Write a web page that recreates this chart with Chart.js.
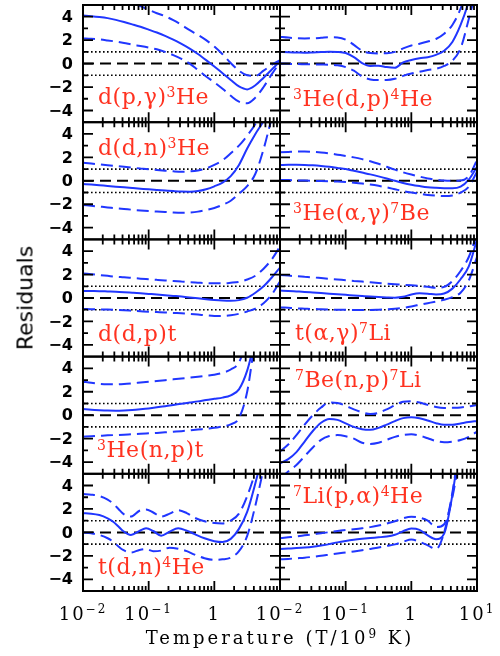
<!DOCTYPE html>
<html lang="en">
<head>
<meta charset="UTF-8">
<title>Residuals of nuclear reaction rates</title>
<script src="https://cdn.jsdelivr.net/npm/chart.js"></script>
<style>
  body { margin: 0; background: #fff; }
  #wrap { position: relative; width: 500px; height: 656px; overflow: hidden; }
  #wrap canvas { position: absolute; left: 0; top: 0; }
  .rx { position: absolute; color: #ff3220; font-family: 'DejaVu Serif', serif; font-size: 22px;
        line-height: 24px; letter-spacing: 0.5px; white-space: nowrap; }
  .rx sup { font-size: 14px; line-height: 0; vertical-align: 7px; letter-spacing: 0.5px; }
  #ytitle { position: absolute; left: 25px; top: 298px; transform: translate(-50%, -50%) rotate(-90deg);
            font: 22px 'DejaVu Sans', sans-serif; white-space: nowrap; }
  #xtitle { position: absolute; left: 280px; top: 628px; transform: translateX(-50%);
            font: 18px 'DejaVu Serif', serif; line-height: 20px; letter-spacing: 3px; white-space: nowrap; }
  #xtitle sup { font-size: 12px; line-height: 0; vertical-align: 6px; }
</style>
</head>
<body>
<div id="wrap">
  <div id="ytitle">Residuals</div>
  <div id="xtitle">Temperature (T/10<sup>9</sup> K)</div>
</div>

<script>
// log10(T/10^9 K) sample points
const gridLogT = [-2, -1.875, -1.75, -1.625, -1.5, -1.375, -1.25, -1.125, -1, -0.875, -0.75, -0.625,
                  -0.5, -0.375, -0.25, -0.125, 0, 0.125, 0.25, 0.375, 0.5, 0.625, 0.75, 0.875, 1];
// t(d,n) wiggles need their own sampling
const tdnLogT = [-2, -1.875, -1.75, -1.625, -1.54, -1.46, -1.39, -1.27, -1.14, -1.04, -0.93, -0.81, -0.68,
                 -0.55, -0.42, -0.3, -0.15, 0, 0.125, 0.25, 0.375, 0.5, 0.625, 0.75, 0.875, 1];

// residual curves: best fit (Mid) and error band (Hi / Lo)
const dpgMid = [4.1, 4.05, 3.98, 3.88, 3.73, 3.55, 3.35, 3.14, 2.9, 2.65, 2.37, 2.05, 1.68, 1.28, 0.82, 0.3, -0.25, -0.82, -1.4, -1.95, -2.2, -1.85, -1.2, -0.5, 0.2];
const dpgHi  = [6.2, 6.1, 5.95, 5.8, 5.6, 5.4, 5.15, 4.9, 4.6, 4.3, 4.05, 3.7, 3.3, 2.85, 2.45, 2.0, 1.45, 0.8, 0.05, -0.6, -1.0, -1.05, -0.6, -0.1, 0.3];
const dpgLo  = [2.15, 2.12, 2.07, 1.98, 1.88, 1.76, 1.62, 1.5, 1.37, 1.22, 1.0, 0.72, 0.4, 0.0, -0.55, -1.1, -1.6, -2.15, -2.75, -3.25, -3.38, -2.9, -2.0, -0.9, 0.1];

const he3dpMid = [1.0, 0.97, 0.95, 0.93, 0.95, 0.98, 1.02, 1.0, 0.9, 0.55, 0.05, -0.2, -0.18, -0.3, -0.35, 0.1, 0.3, 0.45, 0.55, 0.75, 1.1, 1.85, 3.3, 5.3, 8];
const he3dpHi  = [2.3, 2.22, 2.17, 2.15, 2.16, 2.2, 2.25, 2.23, 2.05, 1.6, 1.1, 0.9, 0.87, 0.88, 1.0, 1.3, 1.55, 1.7, 1.88, 2.1, 2.55, 3.3, 4.7, 7, 9];
const he3dpLo  = [0.0, -0.02, -0.04, -0.05, -0.06, -0.08, -0.1, -0.15, -0.3, -0.6, -1.1, -1.35, -1.4, -1.4, -1.3, -1.05, -0.85, -0.7, -0.55, -0.45, -0.2, 0.25, 1.3, 3.8, 6.5];

const ddnMid = [-0.27, -0.32, -0.38, -0.44, -0.5, -0.55, -0.61, -0.67, -0.73, -0.78, -0.83, -0.88, -0.92, -0.93, -0.88, -0.72, -0.47, -0.15, 0.4, 1.35, 2.75, 4.0, 5.1, 6.5, 8];
const ddnHi  = [1.55, 1.47, 1.4, 1.33, 1.26, 1.19, 1.12, 1.05, 0.98, 0.92, 0.86, 0.81, 0.78, 0.8, 0.88, 1.05, 1.35, 1.75, 2.35, 3.0, 3.85, 4.85, 6.2, 7.8, 9.5];
const ddnLo  = [-2.06, -2.13, -2.2, -2.27, -2.35, -2.41, -2.47, -2.53, -2.58, -2.62, -2.66, -2.7, -2.72, -2.7, -2.63, -2.5, -2.32, -2.05, -1.7, -1.1, -0.45, 0.6, 2.7, 5.4, 8];

const he3agMid = [1.35, 1.36, 1.36, 1.35, 1.32, 1.27, 1.2, 1.1, 1.0, 0.85, 0.7, 0.55, 0.38, 0.2, 0.0, -0.18, -0.33, -0.45, -0.55, -0.6, -0.63, -0.64, -0.5, 0.1, 1.2];
const he3agHi  = [2.43, 2.46, 2.49, 2.5, 2.47, 2.42, 2.34, 2.23, 2.12, 2.0, 1.85, 1.67, 1.45, 1.2, 0.95, 0.72, 0.53, 0.36, 0.2, 0.1, 0.02, 0.0, 0.02, 0.4, 1.77];
const he3agLo  = [0.07, 0.06, 0.04, 0.02, 0.0, -0.02, -0.04, -0.06, -0.1, -0.16, -0.23, -0.32, -0.43, -0.56, -0.72, -0.88, -1.0, -1.1, -1.21, -1.27, -1.3, -1.25, -1.0, -0.5, 0.78];

const ddpMid = [0.6, 0.59, 0.58, 0.56, 0.54, 0.5, 0.45, 0.4, 0.35, 0.3, 0.24, 0.18, 0.12, 0.05, -0.02, -0.1, -0.17, -0.22, -0.24, -0.18, 0.02, 0.45, 1.0, 1.75, 2.6];
const ddpHi  = [2.1, 2.03, 1.96, 1.89, 1.82, 1.77, 1.71, 1.65, 1.6, 1.55, 1.5, 1.45, 1.4, 1.35, 1.31, 1.27, 1.25, 1.25, 1.3, 1.38, 1.58, 1.9, 2.5, 3.3, 4.4];
const ddpLo  = [-0.94, -0.95, -0.97, -0.99, -1.02, -1.05, -1.09, -1.13, -1.17, -1.2, -1.23, -1.27, -1.3, -1.35, -1.41, -1.48, -1.53, -1.53, -1.47, -1.35, -1.15, -0.9, -0.45, 0.3, 1.4];

const tagMid = [0.63, 0.6, 0.56, 0.52, 0.47, 0.42, 0.37, 0.32, 0.27, 0.22, 0.17, 0.12, 0.08, 0.05, 0.03, 0.1, 0.3, 0.4, 0.37, 0.3, 0.38, 0.8, 1.6, 2.7, 5.0];
const tagHi  = [1.96, 1.91, 1.86, 1.81, 1.76, 1.7, 1.64, 1.58, 1.52, 1.46, 1.4, 1.34, 1.28, 1.22, 1.17, 1.13, 1.08, 1.02, 0.95, 0.87, 0.95, 1.45, 2.3, 3.5, 5.5];
const tagLo  = [-0.8, -0.84, -0.88, -0.91, -0.94, -0.96, -0.98, -1.0, -1.01, -1.02, -1.02, -1.02, -1.0, -0.97, -0.92, -0.84, -0.72, -0.58, -0.44, -0.3, -0.15, 0.08, 0.45, 1.5, 3.5];

const he3npMid = [0.53, 0.47, 0.43, 0.4, 0.39, 0.41, 0.45, 0.51, 0.58, 0.67, 0.77, 0.87, 0.98, 1.08, 1.18, 1.3, 1.4, 1.5, 1.7, 2.2, 3.8, 6.5, 9, 11, 13];
const he3npHi  = [2.86, 2.76, 2.68, 2.64, 2.63, 2.66, 2.72, 2.79, 2.86, 2.92, 2.99, 3.06, 3.13, 3.2, 3.28, 3.37, 3.46, 3.62, 3.9, 4.5, 6.5, 9, 11, 13, 15];
const he3npLo  = [-1.83, -1.8, -1.76, -1.72, -1.69, -1.66, -1.62, -1.59, -1.55, -1.51, -1.46, -1.41, -1.36, -1.3, -1.23, -1.15, -1.08, -0.95, -0.78, -0.25, 2.0, 6.5, 10, 13, 16];

const be7npMid = [-4.1, -3.75, -3.15, -2.25, -1.35, -0.65, -0.32, -0.4, -0.7, -1.0, -1.2, -1.25, -1.08, -0.8, -0.5, -0.25, -0.17, -0.26, -0.45, -0.68, -0.82, -0.82, -0.7, -0.58, -0.49];
const be7npHi  = [-3.1, -2.5, -1.7, -0.8, 0.0, 0.65, 1.08, 1.05, 0.8, 0.5, 0.25, 0.1, 0.2, 0.5, 0.85, 1.15, 1.2, 1.08, 0.88, 0.7, 0.62, 0.63, 0.66, 0.75, 0.87];
const be7npLo  = [-5.4, -4.8, -4.25, -3.5, -2.75, -2.1, -1.78, -1.7, -1.8, -2.0, -2.35, -2.45, -2.35, -2.1, -1.85, -1.68, -1.63, -1.75, -1.97, -2.2, -2.3, -2.25, -2.12, -1.85, -1.4];

const tdnMid = [1.63, 1.6, 1.48, 1.2, 0.91, 0.5, 0.12, -0.22, 0.12, 0.35, 0.12, -0.28, 0.07, 0.35, 0.15, -0.15, -0.5, -0.75, -0.82, -0.55, 0.3, 1.75, 4.2, 7, 10, 13];
const tdnHi  = [3.28, 3.22, 3.1, 2.8, 2.45, 2.0, 1.6, 1.35, 1.85, 1.95, 1.7, 1.35, 1.6, 1.9, 1.65, 1.25, 0.95, 0.8, 0.77, 1.0, 1.6, 3.1, 5.2, 8, 11, 14];
const tdnLo  = [0.0, -0.08, -0.22, -0.5, -0.8, -1.2, -1.5, -1.72, -1.5, -1.42, -1.6, -1.55, -1.3, -1.4, -1.6, -1.9, -2.2, -2.35, -2.3, -2.15, -1.6, -0.3, 2.3, 5.5, 9, 12];

const li7paMid = [-1.42, -1.38, -1.34, -1.29, -1.22, -1.12, -1.0, -0.85, -0.73, -0.63, -0.55, -0.48, -0.42, -0.35, -0.2, 0.1, 0.33, 0.22, -0.25, -0.58, -0.1, 3.2, 8, 12, 16];
const li7paHi  = [-0.5, -0.42, -0.34, -0.25, -0.16, -0.07, 0.02, 0.12, 0.2, 0.27, 0.35, 0.45, 0.58, 0.75, 0.95, 1.2, 1.33, 1.25, 1.0, 0.45, 0.7, 3.0, 7, 11, 15];
const li7paLo  = [-2.3, -2.26, -2.21, -2.16, -2.08, -2.0, -1.9, -1.8, -1.71, -1.62, -1.52, -1.41, -1.28, -1.15, -1.02, -0.8, -0.6, -0.8, -1.1, -1.42, 0.0, 3.4, 8, 12, 16];

const reactionNames = [
  'd(p,γ)<sup>3</sup>He', '<sup>3</sup>He(d,p)<sup>4</sup>He',
  'd(d,n)<sup>3</sup>He', '<sup>3</sup>He(α,γ)<sup>7</sup>Be',
  'd(d,p)t',              't(α,γ)<sup>7</sup>Li',
  '<sup>3</sup>He(n,p)t', '<sup>7</sup>Be(n,p)<sup>7</sup>Li',
  't(d,n)<sup>4</sup>He', '<sup>7</sup>Li(p,α)<sup>4</sup>He'
];

const yTickValues = [-4, -2, 0, 2, 4];
const xTickValues = [0.01, 0.1, 1, 10];
const xTickBase = ['10', '10', '1', '10'];
const xTickExp = ['\u22122', '\u22121', '', '1'];

// panel order: row by row, left column first
const panels = [
  [gridLogT, dpgMid, dpgHi, dpgLo],
  [gridLogT, he3dpMid, he3dpHi, he3dpLo],
  [gridLogT, ddnMid, ddnHi, ddnLo],
  [gridLogT, he3agMid, he3agHi, he3agLo],
  [gridLogT, ddpMid, ddpHi, ddpLo],
  [gridLogT, tagMid, tagHi, tagLo],
  [gridLogT, he3npMid, he3npHi, he3npLo],
  [gridLogT, be7npMid, be7npHi, be7npLo],
  [tdnLogT, tdnMid, tdnHi, tdnLo],
  [gridLogT, li7paMid, li7paHi, li7paLo]
];

// page geometry
const PAGE_W = 500, PAGE_H = 656;
const PLOT_L = 83, COL_W = 197, PLOT_T = 5, ROW_H = 117.2;
const BLUE = '#2036ff';
// label anchor: left edge and text baseline
const labelSpots = [[98, 105], [293, 107], [98, 156], [293, 221], [98, 342],
                    [295, 341], [97, 458], [295, 388], [98, 575], [293, 504]];

const fmtY = v => (v < 0 ? '\u2212' + Math.abs(v) : String(v));

const panelFrame = {
  id: 'panelFrame',
  beforeDatasetsDraw(chart) {
    const { ctx, chartArea: a, scales: { y } } = chart;
    ctx.save();
    ctx.strokeStyle = '#000';
    ctx.lineWidth = 2;
    ctx.setLineDash([11, 6]);
    const y0 = y.getPixelForValue(0);
    ctx.beginPath(); ctx.moveTo(a.left, y0); ctx.lineTo(a.right, y0); ctx.stroke();
    ctx.lineWidth = 1.6;
    ctx.setLineDash([1.6, 2.4]);
    for (const v of [1, -1]) {
      const py = y.getPixelForValue(v);
      ctx.beginPath(); ctx.moveTo(a.left, py); ctx.lineTo(a.right, py); ctx.stroke();
    }
    ctx.restore();
  },
  afterDraw(chart, args, opts) {
    const { ctx, chartArea: a, scales: { x, y } } = chart;
    ctx.save();
    ctx.strokeStyle = '#000';
    ctx.setLineDash([]);
    // inward ticks, log on x and linear on y
    ctx.lineWidth = 1.8;
    ctx.beginPath();
    for (const d of [0.01, 0.1, 1]) {
      for (let m = 1; m <= 9; m++) {
        if (d === 0.01 && m === 1) continue;
        const px = x.getPixelForValue(d * m);
        const len = m === 1 ? 10 : 5;
        ctx.moveTo(px, a.top); ctx.lineTo(px, a.top + len);
        ctx.moveTo(px, a.bottom); ctx.lineTo(px, a.bottom - len);
      }
    }
    for (let v = -4; v <= 4; v++) {
      const py = y.getPixelForValue(v);
      const len = v % 2 === 0 ? 10 : 5;
      ctx.moveTo(a.left, py); ctx.lineTo(a.left + len, py);
      ctx.moveTo(a.right, py); ctx.lineTo(a.right - len, py);
    }
    ctx.stroke();
    ctx.lineWidth = 2;
    ctx.strokeRect(a.left, a.top, a.right - a.left, a.bottom - a.top);

    ctx.fillStyle = '#000';
    if (opts.yLabels) {
      ctx.font = 'bold 16px "DejaVu Sans"';
      ctx.textAlign = 'right';
      ctx.textBaseline = 'middle';
      for (const v of yTickValues) ctx.fillText(fmtY(v), a.left - 10, y.getPixelForValue(v) + 1);
    }
    if (opts.xLabels) {
      // base and raised exponent, centred together on the decade tick
      const baseFont = '18px "DejaVu Serif"', expFont = '12px "DejaVu Serif"';
      ctx.letterSpacing = '2px';
      ctx.textAlign = 'left';
      ctx.textBaseline = 'alphabetic';
      const yb = a.bottom + 29;
      for (let i = 0; i < opts.xLabels; i++) {
        ctx.font = baseFont;
        const wb = ctx.measureText(xTickBase[i]).width;
        ctx.font = expFont;
        const we = xTickExp[i] ? ctx.measureText(xTickExp[i]).width : 0;
        const x0 = x.getPixelForValue(xTickValues[i]) - (wb + we) / 2;
        ctx.font = baseFont;
        ctx.fillText(xTickBase[i], x0, yb);
        if (xTickExp[i]) {
          ctx.font = expFont;
          ctx.fillText(xTickExp[i], x0 + wb, yb - 7);
        }
      }
    }
    ctx.restore();
  }
};

const wrap = document.getElementById('wrap');

panels.forEach(([logT, mid, hi, lo], i) => {
  const row = Math.floor(i / 2), col = i % 2;
  const canvas = document.createElement('canvas');
  canvas.width = PAGE_W; canvas.height = PAGE_H;
  wrap.insertBefore(canvas, wrap.firstChild);

  const toPts = arr => arr.map((v, k) => ({ x: Math.pow(10, logT[k]), y: v }));
  const curve = (arr, dashed) => ({
    data: toPts(arr),
    borderColor: BLUE,
    borderWidth: 2,
    borderDash: dashed ? [12, 6] : [],
    pointRadius: 0,
    cubicInterpolationMode: 'monotone',
    fill: false
  });

  const top = PLOT_T + ROW_H * row;
  const left = PLOT_L + COL_W * col;

  new Chart(canvas.getContext('2d'), {
    type: 'line',
    data: { datasets: [curve(mid, false), curve(hi, true), curve(lo, true)] },
    options: {
      responsive: false,
      animation: false,
      devicePixelRatio: 1,
      events: [],
      layout: { padding: { left: left, right: PAGE_W - left - COL_W, top: top, bottom: PAGE_H - top - ROW_H } },
      scales: {
        x: { type: 'logarithmic', min: 0.01, max: 10, display: false },
        y: { type: 'linear', min: -5, max: 5, display: false }
      },
      plugins: {
        legend: { display: false },
        tooltip: { enabled: false },
        panelFrame: { yLabels: col === 0, xLabels: row === 4 ? (col === 0 ? 3 : 4) : 0 }
      }
    },
    plugins: [panelFrame]
  });

  const lab = document.createElement('div');
  lab.className = 'rx';
  lab.innerHTML = reactionNames[i];
  lab.style.left = labelSpots[i][0] + 'px';
  lab.style.top = (labelSpots[i][1] - 20) + 'px';
  wrap.appendChild(lab);
});
</script>
</body>
</html>
